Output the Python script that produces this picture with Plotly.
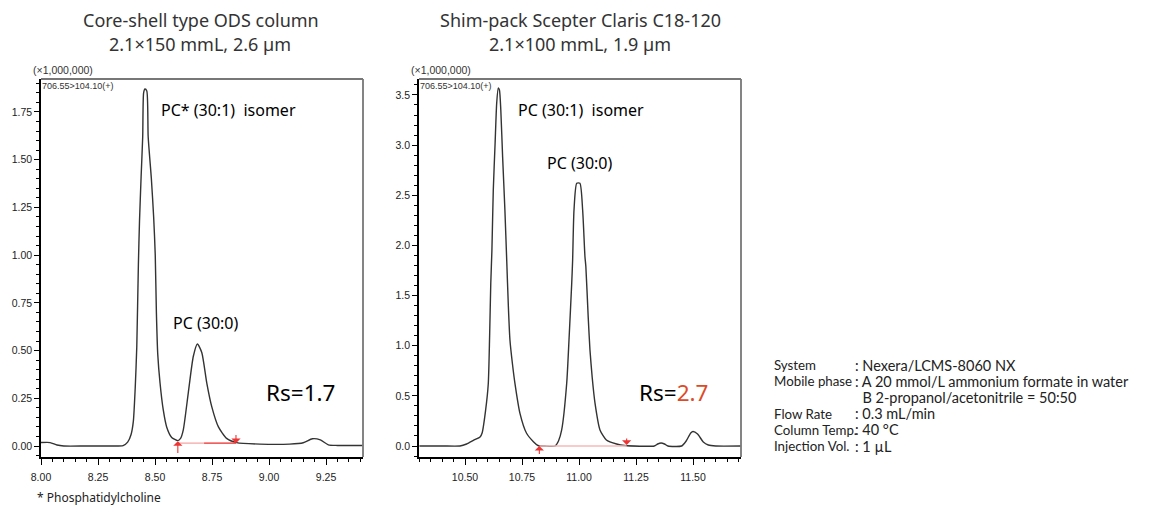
import plotly.graph_objects as go

# ---------------- data ----------------
left_time = [8.00, 8.04, 8.07, 8.10, 8.20, 8.30, 8.36, 8.38, 8.395, 8.405, 8.413, 8.42,
             8.427, 8.432, 8.439, 8.446, 8.450, 8.456, 8.464, 8.470, 8.484, 8.494, 8.501,
             8.506, 8.512, 8.522, 8.536, 8.551, 8.573, 8.600, 8.612, 8.624, 8.646, 8.668,
             8.686, 8.705, 8.727, 8.749, 8.778, 8.814, 8.858, 8.96, 9.09, 9.15, 9.19,
             9.225, 9.26, 9.30, 9.41]
left_int = [0.018, 0.018, 0.005, 0.0, 0.0, 0.0, 0.002, 0.02, 0.06, 0.13, 0.30, 0.52,
            0.95, 1.18, 1.41, 1.62, 1.85, 1.87, 1.86, 1.62, 1.40, 1.20, 1.00,
            0.70, 0.48, 0.33, 0.19, 0.10, 0.045, 0.028, 0.04, 0.085, 0.28, 0.47,
            0.534, 0.49, 0.33, 0.205, 0.10, 0.04, 0.018, 0.01, 0.01, 0.017, 0.038,
            0.032, 0.006, 0.003, 0.003]

right_time = [10.30, 10.40, 10.478, 10.507, 10.54, 10.566, 10.575, 10.590, 10.602, 10.608,
              10.613, 10.618, 10.624, 10.632, 10.639, 10.646, 10.651, 10.657, 10.665, 10.675,
              10.683, 10.690, 10.697, 10.708, 10.719, 10.741, 10.770, 10.800, 10.820, 10.850,
              10.895, 10.910, 10.924, 10.946, 10.957, 10.968, 10.972, 10.978, 10.990, 11.004,
              11.016, 11.026, 11.030, 11.040, 11.048, 11.058, 11.070, 11.092, 11.120, 11.165,
              11.20, 11.33, 11.345, 11.36, 11.375, 11.39, 11.45, 11.47, 11.49, 11.50,
              11.52, 11.545, 11.567, 11.60, 11.71]
right_int = [0.0, 0.0, 0.0, 0.02, 0.06, 0.09, 0.13, 0.35, 0.62, 1.10,
             1.62, 1.95, 2.55, 3.02, 3.42, 3.57, 3.55, 3.35, 2.88, 2.35,
             1.85, 1.40, 1.06, 0.82, 0.625, 0.326, 0.127, 0.043, 0.005, 0.0,
             0.0, 0.05, 0.16, 0.625, 1.10, 1.62, 1.85, 2.35, 2.62, 2.62,
             2.35, 1.89, 1.79, 1.30, 0.96, 0.68, 0.43, 0.16, 0.06, 0.02,
             0.005, 0.0, 0.02, 0.03, 0.02, 0.0, 0.0, 0.05, 0.13, 0.145,
             0.12, 0.04, 0.01, 0.0, 0.0]

# resolution markers (start / end times of the Rs baseline) and their levels
left_rs_time = [8.600, 8.715, 8.855]
left_rs_level = [0.015, 0.015, 0.015]
right_rs_time = [10.826, 11.209]
right_rs_level = [0.0, 0.0]

left_xticks = [8.00, 8.25, 8.50, 8.75, 9.00, 9.25]
left_xtick_text = ["8.00", "8.25", "8.50", "8.75", "9.00", "9.25"]
left_yticks = [0.00, 0.25, 0.50, 0.75, 1.00, 1.25, 1.50, 1.75]
left_ytick_text = ["0.00", "0.25", "0.50", "0.75", "1.00", "1.25", "1.50", "1.75"]
right_xticks = [10.50, 10.75, 11.00, 11.25, 11.50]
right_xtick_text = ["10.50", "10.75", "11.00", "11.25", "11.50"]
right_yticks = [0.0, 0.5, 1.0, 1.5, 2.0, 2.5, 3.0, 3.5]
right_ytick_text = ["0.0", "0.5", "1.0", "1.5", "2.0", "2.5", "3.0", "3.5"]

left_title = ["Core-shell type ODS column", "2.1×150 mmL, 2.6 µm"]
right_title = ["Shim-pack Scepter Claris C18-120", "2.1×100 mmL, 1.9 µm"]
cond_labels = ["System", "Mobile phase", "", "Flow Rate", "Column Temp.", "Injection Vol."]
cond_values = [": Nexera/LCMS-8060 NX", ": A 20 mmol/L ammonium formate in water",
               "  B 2-propanol/acetonitrile = 50:50", ": 0.3 mL/min", ": 40 °C", ": 1 µL"]

# ---------------- figure ----------------
W, H = 1170, 507
def px(x):
    return x / W
def py(y):
    return 1 - y / H

TICKFAMILY = "Liberation Sans Narrow, Liberation Sans, Arial, sans-serif"
TICKFONT = dict(family=TICKFAMILY, size=10.5, color="#222222")
TEXTFONT = "Noto Sans, Open Sans, sans-serif"
LINE = "#333333"

fig = go.Figure()
fig.add_trace(go.Scatter(x=left_time, y=left_int, mode="lines", xaxis="x", yaxis="y",
                         line=dict(color=LINE, width=1.4, shape="spline", smoothing=0.6),
                         showlegend=False, hoverinfo="skip"))
fig.add_trace(go.Scatter(x=right_time, y=right_int, mode="lines", xaxis="x2", yaxis="y2",
                         line=dict(color=LINE, width=1.4, shape="spline", smoothing=0.6),
                         showlegend=False, hoverinfo="skip"))
# Rs baselines
fig.add_trace(go.Scatter(x=left_rs_time[:2], y=left_rs_level[:2], mode="lines", xaxis="x", yaxis="y",
                         line=dict(color="#f7b3b3", width=1.5), showlegend=False, hoverinfo="skip"))
fig.add_trace(go.Scatter(x=left_rs_time[1:], y=left_rs_level[1:], mode="lines", xaxis="x", yaxis="y",
                         line=dict(color="#ef4a4a", width=1.5), showlegend=False, hoverinfo="skip"))
fig.add_trace(go.Scatter(x=right_rs_time, y=right_rs_level, mode="lines", xaxis="x2", yaxis="y2",
                         line=dict(color="#f7b8b8", width=1.5), showlegend=False, hoverinfo="skip"))

xd1 = [px(41), px(363)]
xd2 = [px(419), px(741)]
yd = [py(457), py(79)]

common_x = dict(showline=True, linecolor="black", linewidth=1.5, ticks="outside", ticklen=6,
                tickcolor="black", tickwidth=1.2, showgrid=False, zeroline=False,
                tickfont=TICKFONT, fixedrange=True, automargin=False, ticklabelstandoff=4)
common_y = dict(showline=True, linecolor="black", linewidth=1.5, ticks="outside", ticklen=5,
                tickcolor="black", tickwidth=1.2, showgrid=False, zeroline=False,
                tickfont=TICKFONT, fixedrange=True, automargin=False)

fig.update_layout(
    width=W, height=H, autosize=False,
    margin=dict(l=0, r=0, t=0, b=0, autoexpand=False),
    paper_bgcolor="white", plot_bgcolor="white",
    xaxis=dict(domain=xd1, range=[8.00, 9.412], anchor="y",
               tickvals=left_xticks, ticktext=left_xtick_text,
               minor=dict(dtick=0.05, tick0=8.0, ticks="outside", ticklen=3,
                          tickcolor="black", tickwidth=1), **common_x),
    yaxis=dict(domain=yd, range=[-0.0576, 1.9225], anchor="x",
               tickvals=left_yticks, ticktext=left_ytick_text,
               minor=dict(dtick=0.05, tick0=0, ticks="outside", ticklen=3,
                          tickcolor="black", tickwidth=1), **common_y),
    xaxis2=dict(domain=xd2, range=[10.2982, 11.7105], anchor="y2",
                tickvals=right_xticks, ticktext=right_xtick_text,
                minor=dict(dtick=0.05, tick0=10.0, ticks="outside", ticklen=3,
                           tickcolor="black", tickwidth=1), **common_x),
    yaxis2=dict(domain=yd, range=[-0.1097, 3.659], anchor="x2",
                tickvals=right_yticks, ticktext=right_ytick_text,
                minor=dict(dtick=0.1, tick0=0, ticks="outside", ticklen=3,
                           tickcolor="black", tickwidth=1), **common_y),
)

# top / right frame lines
for xd in (xd1, xd2):
    fig.add_shape(type="line", xref="paper", yref="paper", x0=xd[0], x1=xd[1], y0=yd[1], y1=yd[1],
                  line=dict(color="#4a4a4a", width=1.6))
    fig.add_shape(type="line", xref="paper", yref="paper", x0=xd[1], x1=xd[1], y0=yd[0], y1=yd[1],
                  line=dict(color="#777777", width=1.8))

ann = []
def text(x, y, s, size, color="#000000", xanchor="left", family=TEXTFONT):
    ann.append(dict(x=px(x), y=py(y), xref="paper", yref="paper", text=s, showarrow=False,
                    xanchor=xanchor, yanchor="middle", font=dict(family=family, size=size, color=color)))

# titles
text(201, 20, left_title[0], 18, "#333333", "center")
text(200, 44, left_title[1], 18, "#333333", "center")
text(580, 20, right_title[0], 18, "#333333", "center")
text(580, 44, right_title[1], 18, "#333333", "center")

# axis unit captions
for x0 in (31, 409):
    text(x0, 70, "(×1,000,000)", 10.5, "#333333", "left", TICKFAMILY)
for x0 in (40, 418):
    text(x0, 86, "706.55>104.10(+)", 9, "#333333", "left", TICKFAMILY)

# peak labels
text(159, 110, "PC* (30:1)  isomer", 16)
text(171, 323, "PC (30:0)", 16)
text(264, 392, "Rs=1.7", 22.5)
text(516, 110, "PC (30:1)  isomer", 16)
text(545, 163, "PC (30:0)", 16)
text(637, 392, "Rs=<span style='color:#dc4a26'>2.7</span>", 22.5)

text(35, 497, "* Phosphatidylcholine", 12, "#222222")

# conditions
COND = "Lato, Noto Sans, sans-serif"
for i, (lab, val) in enumerate(zip(cond_labels, cond_values)):
    yy = 365 + i * 16.2
    if lab:
        text(772, yy, lab, 13.3, "#222222", family=COND)
    text(853, yy, val, 14.5, "#222222", family=COND)

# Rs arrows
def arrow(xref, yref, x, y0, y1):
    ann.append(dict(x=x, y=y1, ax=x, ay=y0, xref=xref, yref=yref, axref=xref, ayref=yref,
                    text="", showarrow=True, arrowhead=1, arrowsize=1.4, arrowwidth=1.1,
                    arrowcolor="#ee3333"))
arrow("x", "y", left_rs_time[0], -0.045, left_rs_level[0] + 0.01)
arrow("x", "y", left_rs_time[-1], 0.065, left_rs_level[-1])
arrow("x2", "y2", right_rs_time[0], -0.095, right_rs_level[0])
arrow("x2", "y2", right_rs_time[-1], 0.09, right_rs_level[-1] + 0.01)

fig.update_layout(annotations=ann)
fig.write_html("out.html", config={"displayModeBar": False},
               post_script="document.body.style.margin='0';document.body.style.overflow='hidden';")
